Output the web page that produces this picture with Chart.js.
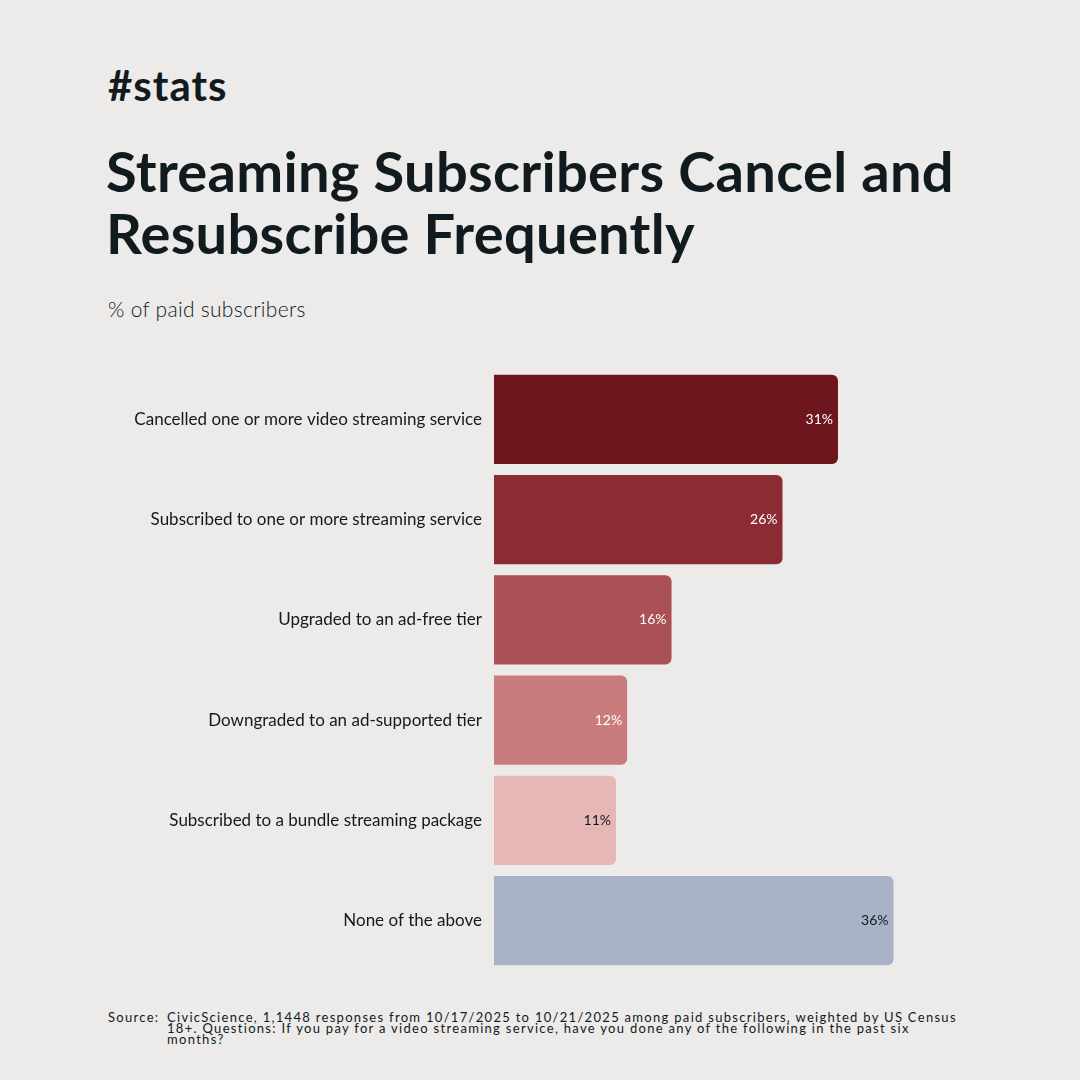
<!DOCTYPE html>
<html>
<head>
    <style>
        body { margin: 0; width: 1080px; height: 1080px; background: #ecebe9; font-family: Lato, sans-serif; color: #111a1f; position: relative; overflow: hidden; }
        .tag { position: absolute; left: 108px; top: 60px; font-size: 42px; font-weight: 700; letter-spacing: 1px; }
        h1 { position: absolute; left: 106px; top: 140px; margin: 0; font-size: 56px; line-height: 62px; font-weight: 700; letter-spacing: 0.3px; width: 900px; }
        .sub { position: absolute; left: 108px; top: 296px; font-size: 21px; font-weight: 300; color: #111a1f; letter-spacing: 0.3px; }
        #chartBox { position: absolute; left: 0; top: 355px; width: 1000px; height: 630px; }
        .src { position: absolute; left: 108px; top: 1012px; font-size: 13px; line-height: 11px; letter-spacing: 1.3px; display: flex; width: 860px; font-weight: 400; }
        .src span:first-child { width: 59px; flex: none; }
    </style>
    <script src="https://cdn.jsdelivr.net/npm/chart.js"></script>
</head>
<body>
    <div class="tag">#stats</div>
    <h1>Streaming Subscribers Cancel and Resubscribe Frequently</h1>
    <div class="sub">% of paid subscribers</div>
    <div id="chartBox"><canvas id="bars" width="1000" height="630"></canvas></div>
    <div class="src"><span>Source:</span><span>CivicScience, 1,1448 responses from 10/17/2025 to 10/21/2025 among paid subscribers, weighted by US Census 18+. Questions: If you pay for a video streaming service, have you done any of the following in the past six months?</span></div>

    <script>
        const categories = [
            'Cancelled one or more video streaming service',
            'Subscribed to one or more streaming service',
            'Upgraded to an ad-free tier',
            'Downgraded to an ad-supported tier',
            'Subscribed to a bundle streaming package',
            'None of the above'
        ];
        const values = [31, 26, 16, 12, 11, 36];
        const barColors = ['#6e161d', '#8b2c35', '#ab5054', '#c87c7b', '#e5b8b6', '#a8b3c7'];
        const labelColors = ['#ffffff', '#ffffff', '#ffffff', '#ffffff', '#111a1f', '#111a1f'];

        const valueLabels = {
            id: 'valueLabels',
            afterDatasetsDraw(chart) {
                const ctx = chart.ctx;
                const meta = chart.getDatasetMeta(0);
                ctx.save();
                ctx.font = '400 14px Lato, sans-serif';
                ctx.textAlign = 'right';
                ctx.textBaseline = 'middle';
                meta.data.forEach((bar, i) => {
                    ctx.fillStyle = labelColors[i];
                    ctx.fillText(values[i] + '%', bar.x - 5, bar.y);
                });
                ctx.restore();
            }
        };

        new Chart(document.getElementById('bars'), {
            type: 'bar',
            data: {
                labels: categories,
                datasets: [{
                    data: values,
                    backgroundColor: barColors,
                    borderRadius: { topRight: 6, bottomRight: 6 },
                    borderSkipped: 'left',
                    categoryPercentage: 1,
                    barPercentage: 0.89
                }]
            },
            options: {
                indexAxis: 'y',
                responsive: false,
                animation: false,
                layout: { padding: 0 },
                plugins: { legend: { display: false }, tooltip: { enabled: false } },
                scales: {
                    x: { display: false, min: 0, max: 45.6 },
                    y: {
                        afterFit(axis) { axis.width = 494; },
                        grid: { display: false },
                        border: { display: false },
                        ticks: { color: '#111a1f', padding: 4, font: { family: 'Lato', size: 17, weight: 400 } }
                    }
                }
            },
            plugins: [valueLabels]
        });
    </script>
</body>
</html>
